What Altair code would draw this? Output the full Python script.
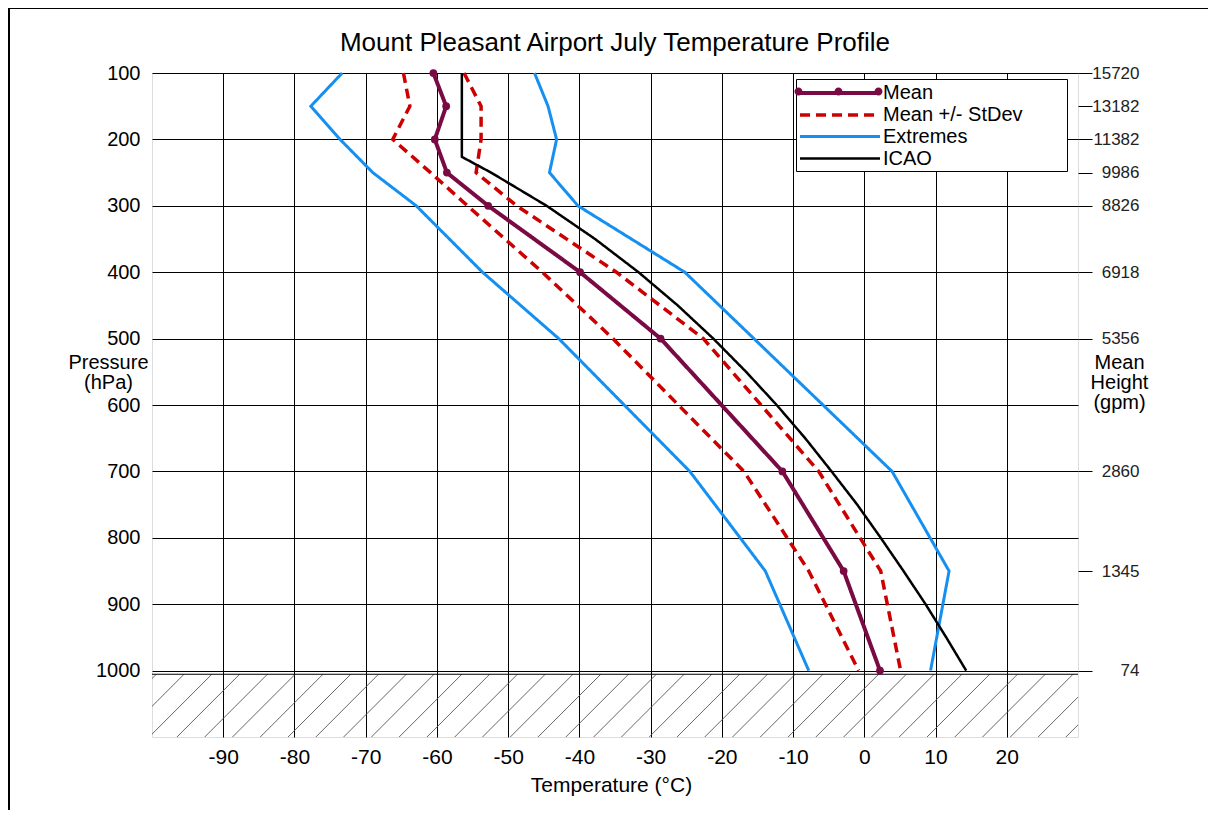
import altair as alt
import pandas as pd

# ---------------- data ----------------
pressure = [100, 150, 200, 250, 300, 400, 500, 700, 850, 1000]
mean_t = [-60.5, -58.7, -60.3, -58.6, -52.8, -39.9, -28.6, -11.5, -2.9, 2.2]
sd_low = [-64.7, -63.8, -66.2, -60.9, -55.7, -45.2, -35.3, -16.9, -7.8, -0.8]
sd_high = [-56.2, -53.8, -53.8, -54.5, -48.8, -34.8, -22.6, -6.4, 2.3, 5.1]
ext_low = [-73.3, -77.7, -73.6, -69.0, -62.9, -53.6, -42.9, -24.5, -13.9, -7.8]
ext_high = [-46.3, -44.4, -43.2, -44.2, -40.2, -25.2, -15.5, 3.9, 11.9, 9.3]

icao_p = [100, 150, 200, 226.3, 250, 300, 350, 400, 450, 500, 550, 600, 650,
          700, 750, 800, 850, 900, 950, 1000]
icao_t = [-56.5, -56.5, -56.5, -56.5, -52.4, -44.6, -37.8, -31.7, -26.2, -21.2,
          -16.6, -12.3, -8.3, -4.6, -1.0, 2.3, 5.5, 8.6, 11.5, 14.3]

height_p = [100, 150, 200, 250, 300, 400, 500, 700, 850, 1000]
height_gpm = ["15720", "13182", "11382", "9986", "8826", "6918", "5356", "2860", "1345", "74"]

x_ticks = [-90, -80, -70, -60, -50, -40, -30, -20, -10, 0, 10, 20]
y_ticks = [100, 200, 300, 400, 500, 600, 700, 800, 900, 1000]

series_names = ["Mean", "Mean +/- StDev", "Extremes", "ICAO"]
series_colors = ["#7a0a43", "#cc0000", "#1690f0", "#000000"]
series_dash = [[1, 0], [10, 6], [1, 0], [1, 0]]
series_width = [4, 2.5, 2.5, 1.5]

# ground (below 1000 hPa) hatch decoration
ground_top = 1005.5
ground_bottom = 1100
hatch_start = [-108.2 + 3.9 * i for i in range(38)]
hatch_run = 8.8

FONT = "Liberation Sans"

# ---------------- tables ----------------
rows = []
for name, key, vals in [("Mean", "mean", mean_t),
                        ("Mean +/- StDev", "sdl", sd_low),
                        ("Mean +/- StDev", "sdh", sd_high),
                        ("Extremes", "exl", ext_low),
                        ("Extremes", "exh", ext_high)]:
    for p, t in zip(pressure, vals):
        rows.append({"t": t, "p": p, "series": name, "key": key})
for p, t in zip(icao_p, icao_t):
    rows.append({"t": t, "p": p, "series": "ICAO", "key": "icao"})
lines_df = pd.DataFrame(rows)
mean_df = pd.DataFrame({"t": mean_t, "p": pressure})
hatch_df = pd.DataFrame({"t0": hatch_start,
                         "t1": [h + hatch_run for h in hatch_start],
                         "p0": [ground_bottom] * len(hatch_start),
                         "p1": [ground_top] * len(hatch_start)})
ground_df = pd.DataFrame({"t0": [-100], "t1": [30], "p": [ground_top]})
height_df = pd.DataFrame({"p": height_p, "h": height_gpm})
one = pd.DataFrame({"a": [0]})

xscale = alt.Scale(domain=[-100, 30], nice=False, zero=False)
yscale = alt.Scale(domain=[100, 1100], reverse=True, nice=False, zero=False)

sym_line = "M-1,0H7"
sym_dots = ("M-1.4,0a0.4,0.4 0 1,0 0.8,0a0.4,0.4 0 1,0 -0.8,0"
            "M2.6,0a0.4,0.4 0 1,0 0.8,0a0.4,0.4 0 1,0 -0.8,0"
            "M6.6,0a0.4,0.4 0 1,0 0.8,0a0.4,0.4 0 1,0 -0.8,0")

# ---------------- layers ----------------
frame_v = alt.Chart(one).mark_rule(color="black", strokeWidth=2).encode(
    x=alt.value(-143), y=alt.value(-66), y2=alt.value(760))
frame_h = alt.Chart(one).mark_rule(color="black", strokeWidth=2).encode(
    x=alt.value(-143), x2=alt.value(1100), y=alt.value(-65))

hatch = alt.Chart(hatch_df).mark_rule(color="#555555", strokeWidth=0.9, clip=True).encode(
    x=alt.X("t0:Q", scale=xscale, axis=None),
    x2="t1:Q",
    y=alt.Y("p0:Q", scale=yscale, axis=None),
    y2="p1:Q",
)
ground = alt.Chart(ground_df).mark_rule(color="black", strokeWidth=1).encode(
    x=alt.X("t0:Q", scale=xscale, axis=None),
    x2="t1:Q",
    y=alt.Y("p:Q", scale=yscale, axis=None),
)

lines = alt.Chart(lines_df).mark_line(strokeJoin="miter").encode(
    x=alt.X("t:Q", scale=xscale,
            axis=alt.Axis(values=x_ticks, title="Temperature (°C)", grid=True,
                          gridColor="black", gridOpacity=1, gridWidth=1,
                          ticks=False, domain=False, labelFontSize=21,
                          labelExpr="'' + datum.value",
                          labelFont=FONT, labelColor="black", labelPadding=9,
                          titleFont=FONT, titleFontSize=21, titleFontWeight="normal",
                          titleColor="black", titlePadding=7, titleX=459)),
    y=alt.Y("p:Q", scale=yscale,
            axis=alt.Axis(values=y_ticks, title=["Pressure", "(hPa)"], grid=True,
                          gridColor="black", gridOpacity=1, gridWidth=1,
                          labelExpr="'' + datum.value",
                          ticks=False, domain=False, labelFontSize=20,
                          labelFont=FONT, labelColor="black", labelPadding=12,
                          titleFont=FONT, titleFontSize=20, titleFontWeight="normal",
                          titleColor="black", titleAngle=0, titleAlign="center",
                          titleBaseline="top", titleX=-44, titleY=279,
                          titleLineHeight=20)),
    color=alt.Color("series:N",
                    scale=alt.Scale(domain=series_names, range=series_colors),
                    legend=alt.Legend(orient="none", legendX=644, legendY=6,
                                      title="MM", titleOrient="right", titleOpacity=0,
                                      titleFontSize=20, titlePadding=8,
                                      symbolType=sym_line, symbolSize=400,
                                      labelOffset=61, labelFontSize=20, labelFont=FONT,
                                      labelColor="black", labelLimit=400,
                                      padding=2, rowPadding=0, fillColor="white",
                                      strokeColor="black", zindex=1)),
    strokeDash=alt.StrokeDash("series:N",
                              scale=alt.Scale(domain=series_names, range=series_dash)),
    strokeWidth=alt.StrokeWidth("series:N",
                                scale=alt.Scale(domain=series_names, range=series_width)),
    detail="key:N",
    order=alt.Order("p:Q"),
)

points = alt.Chart(mean_df).mark_circle(size=60, opacity=1, color="#7a0a43").encode(
    x=alt.X("t:Q", scale=xscale, axis=None),
    y=alt.Y("p:Q", scale=yscale, axis=None),
)

label_height = "".join(
    f"datum.value == {p} ? '{h}' : " for p, h in zip(height_p, height_gpm)) + "''"

right_axis = alt.Chart(height_df).mark_point(opacity=0).encode(
    y=alt.Y("p:Q", scale=yscale,
            axis=alt.Axis(orient="right", values=height_p, labelExpr=label_height,
                          title=["Mean", "Height", "(gpm)"], grid=False, domain=False,
                          ticks=True, tickSize=14, tickColor="black", tickWidth=1,
                          labelFontSize=17, labelFont=FONT, labelColor="#222222",
                          labelAlign="right", labelPadding=47,
                          titleFont=FONT, titleFontSize=20, titleFontWeight="normal",
                          titleColor="black", titleAngle=0, titleAlign="center",
                          titleBaseline="top", titleX=41, titleY=279,
                          titleLineHeight=20)),
)

legend_dots = alt.Chart(pd.DataFrame({"dot": ["Mean"]})).mark_point(
    filled=True, opacity=1, color="#7a0a43").encode(
    shape=alt.Shape("dot:N", scale=alt.Scale(domain=["Mean"], range=[sym_dots]),
                    legend=alt.Legend(orient="none", legendX=644, legendY=6, title=None,
                                      symbolSize=400, labelExpr="''", padding=2,
                                      symbolFillColor="#7a0a43",
                                      symbolStrokeColor="#7a0a43",
                                      symbolStrokeWidth=0.5, symbolOpacity=1,
                                      zindex=2)),
).transform_filter("false")

chart = alt.layer(frame_v, frame_h, hatch, ground, lines, points, right_axis, legend_dots
).resolve_axis(x="independent", y="independent").properties(
    width=926, height=664,
    autosize="none",
    padding={"left": 144, "top": 65, "right": 130, "bottom": 73},
    title=alt.TitleParams("Mount Pleasant Airport July Temperature Profile",
                          font=FONT, fontSize=26, fontWeight="normal", color="black",
                          anchor="middle", offset=0, dy=50),
).configure_view(stroke="#333333", strokeWidth=1.2).configure(background="white")

chart.save("out.html", embed_options={"renderer": "svg", "actions": False})
